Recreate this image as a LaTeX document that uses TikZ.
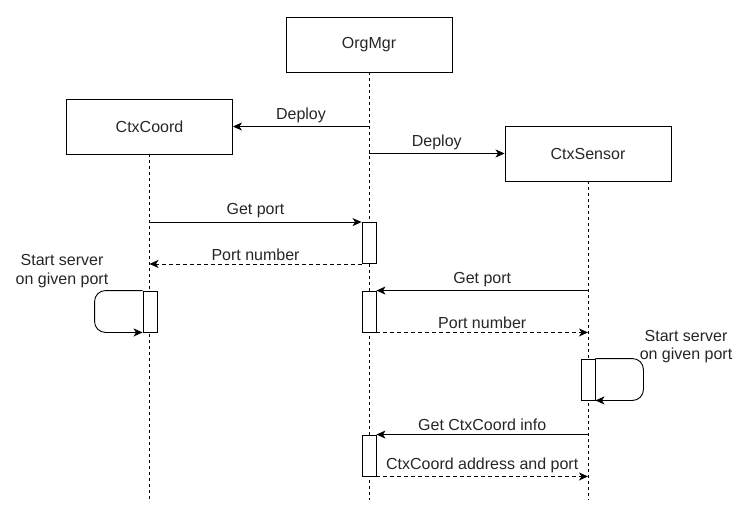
\documentclass[tikz,border=0pt]{standalone}
\usepackage{fontspec}
\setmainfont{Liberation Sans}
\usetikzlibrary{arrows.meta}
\begin{document}
\begin{tikzpicture}[x=1pt,y=-1pt,>={Stealth[length=9pt,width=8pt,inset=2.5pt]},line width=0.9pt,
		font=\fontsize{16}{18.5}\selectfont,text=black!85,
		actor/.style={draw,minimum width=166pt,minimum height=55pt},
		act/.style={draw,fill=white,minimum width=14pt,minimum height=41pt,inner sep=0pt},
		reply/.style={->,dash pattern=on 4pt off 3pt},
		lifeline/.style={dash pattern=on 3pt off 3pt}]
	\useasboundingbox (0,0) rectangle (736,506);
	% participants
	\node[actor] (org) at (369,44.5) {OrgMgr};
	\node[actor] (coord) at (149.5,126.5) {CtxCoord};
	\node[actor] (sensor) at (588,153.5) {CtxSensor};
	\coordinate (bottom) at (0,500);
	\foreach \n in {org,coord,sensor}{
		\draw[lifeline] (\n.south) -- (\n.south |- bottom);
	}
	% activations
	\node[act] (a1) at (369,243) {};
	\node[act] (a2) at (150,311.5) {};
	\node[act] (a3) at (369,311.5) {};
	\node[act] (a4) at (588,379.5) {};
	\node[act] (a5) at (369,455.5) {};
	% messages
	\draw[->] (org |- coord.east) -- (coord.east) node[midway,above]{Deploy};
	\draw[->] (org |- sensor.west) -- (sensor.west) node[midway,above]{Deploy};
	\draw[->] (coord |- a1.north west) -- (a1.north west) node[midway,above]{Get port};
	\draw[reply] (a1.south west) -- (coord |- a1.south west) node[midway,above]{Port number};
	\draw[->,rounded corners=11pt] (a2.north west) -- ++(-48,0) |- (a2.south west);
	\node[align=center] (srv1) at (62,271) {Start server\\on given port};
	\draw[->] (sensor |- a3.north east) -- (a3.north east) node[midway,above]{Get port};
	\draw[reply] (a3.south east) -- (sensor |- a3.south east) node[midway,above]{Port number};
	\draw[->,rounded corners=11pt] (a4.north east) -- ++(48,0) |- (a4.south east);
	\node[align=center] (srv2) at (686,346.5) {Start server\\on given port};
	\draw[->] (sensor |- a5.north east) -- (a5.north east) node[midway,above]{Get CtxCoord info};
	\draw[reply] (a5.south east) -- (sensor |- a5.south east) node[midway,above]{CtxCoord address and port};
\end{tikzpicture}
\end{document}
